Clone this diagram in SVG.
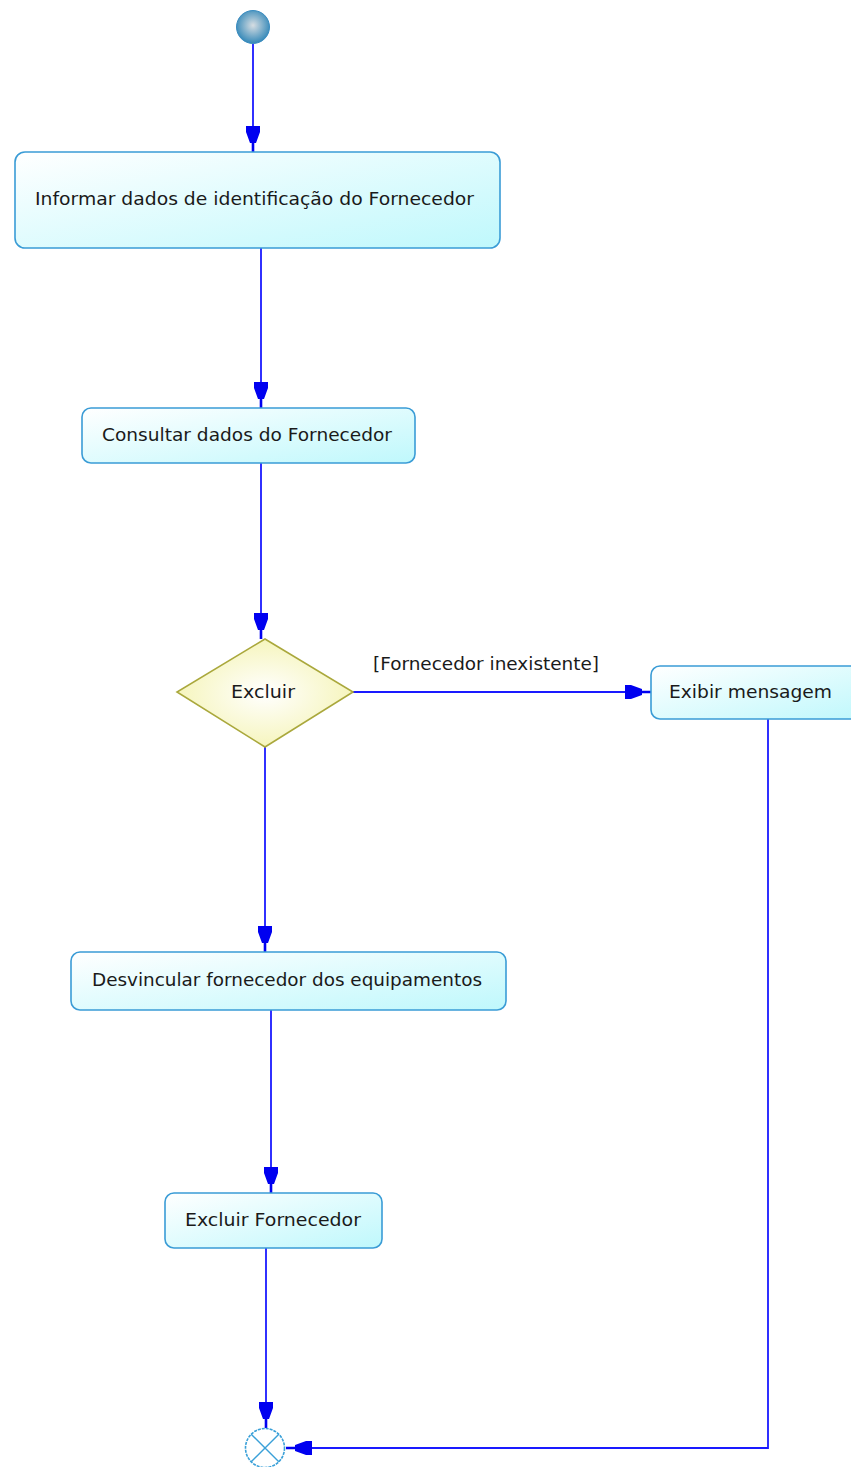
<svg xmlns="http://www.w3.org/2000/svg" width="851" height="1467" viewBox="0 0 851 1467">
  <defs>
    <linearGradient id="boxFill" x1="0" y1="0" x2="1" y2="1">
      <stop offset="0" stop-color="#ffffff"/>
      <stop offset="1" stop-color="#bff8fc"/>
    </linearGradient>
    <radialGradient id="decFill" cx="0.5" cy="0.5" r="0.6">
      <stop offset="0" stop-color="#ffffff"/>
      <stop offset="1" stop-color="#f4f3b0"/>
    </radialGradient>
    <radialGradient id="startFill" cx="0.5" cy="0.45" r="0.55">
      <stop offset="0" stop-color="#d6dde2"/>
      <stop offset="1" stop-color="#3488b8"/>
    </radialGradient>
    <marker id="arr" markerUnits="userSpaceOnUse" viewBox="-27 -8 28 16" refX="0" refY="0" markerWidth="28" markerHeight="16" orient="auto">
      <path d="M-26,-7 L-20,-7 L-9,-3 L-9,-1.3 L0,-1.3 L0,1.3 L-9,1.3 L-9,3 L-20,7 L-26,7 Z" fill="#0000f0"/>
    </marker>
    <style>
      .box { fill: url(#boxFill); stroke: #3a9cd6; stroke-width: 1.6; }
      .lbl { font-family: "DejaVu Sans", "Liberation Sans", sans-serif; font-size: 17px; fill: #1a1a1a; }
      .conn { fill: none; stroke: #1a1aff; stroke-width: 1.8; marker-end: url(#arr); }
    </style>
  </defs>

  <g id="connectors">
    <path class="conn" d="M253,44 L253,152"/>
    <path class="conn" d="M261,248 L261,408"/>
    <path class="conn" d="M261,463 L261,639"/>
    <path class="conn" d="M353,692 L651,692"/>
    <path class="conn" d="M265,747 L265,952"/>
    <path class="conn" d="M271,1010 L271,1193"/>
    <path class="conn" d="M266,1248 L266,1428"/>
    <path class="conn" d="M768,719 L768,1448 L286,1448"/>
    <text class="lbl" x="373" y="670" textLength="226" lengthAdjust="spacingAndGlyphs">[Fornecedor inexistente]</text>
  </g>

  <g id="start">
    <circle cx="253" cy="27" r="16.5" fill="url(#startFill)" stroke="#3a8cc0" stroke-width="1"/>
  </g>

  <g id="informar">
    <rect class="box" x="15" y="152" width="485" height="96" rx="10"/>
    <text class="lbl" x="35" y="205" textLength="439" lengthAdjust="spacingAndGlyphs">Informar dados de identificação do Fornecedor</text>
  </g>

  <g id="consultar">
    <rect class="box" x="82" y="408" width="333" height="55" rx="9"/>
    <text class="lbl" x="102" y="441" textLength="290" lengthAdjust="spacingAndGlyphs">Consultar dados do Fornecedor</text>
  </g>

  <g id="decisao">
    <polygon points="265,639 353,692 265,747 177,692" fill="url(#decFill)" stroke="#aaa83c" stroke-width="1.6"/>
    <text class="lbl" x="231" y="698" textLength="64" lengthAdjust="spacingAndGlyphs">Excluir</text>
  </g>

  <g id="exibir">
    <rect class="box" x="651" y="666" width="215" height="53" rx="9"/>
    <text class="lbl" x="669" y="698" textLength="163" lengthAdjust="spacingAndGlyphs">Exibir mensagem</text>
  </g>

  <g id="desvincular">
    <rect class="box" x="71" y="952" width="435" height="58" rx="9"/>
    <text class="lbl" x="92" y="986" textLength="390" lengthAdjust="spacingAndGlyphs">Desvincular fornecedor dos equipamentos</text>
  </g>

  <g id="excluirFornecedor">
    <rect class="box" x="165" y="1193" width="217" height="55" rx="9"/>
    <text class="lbl" x="185" y="1226" textLength="176" lengthAdjust="spacingAndGlyphs">Excluir Fornecedor</text>
  </g>

  <g id="fim">
    <circle cx="265" cy="1448" r="19.5" fill="#ffffff" stroke="#3aa0d8" stroke-width="1.6" stroke-dasharray="3 1"/>
    <path d="M251.2,1434.2 L278.8,1461.8 M278.8,1434.2 L251.2,1461.8" stroke="#3aa0d8" stroke-width="1.4"/>
  </g>
</svg>
